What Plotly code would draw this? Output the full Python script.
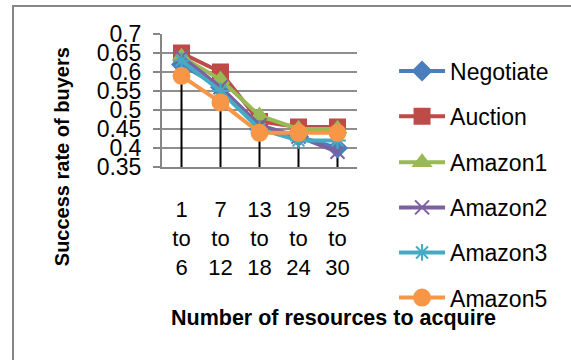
import plotly.graph_objects as go

categories = ["1<br>to<br>6", "7<br>to<br>12", "13<br>to<br>18", "19<br>to<br>24", "25<br>to<br>30"]
negotiate = [0.62, 0.56, 0.45, 0.43, 0.40]
auction = [0.65, 0.60, 0.47, 0.455, 0.455]
amazon1 = [0.64, 0.58, 0.485, 0.45, 0.45]
amazon2 = [0.64, 0.56, 0.46, 0.43, 0.39]
amazon3 = [0.63, 0.55, 0.45, 0.42, 0.42]
amazon5 = [0.59, 0.52, 0.44, 0.44, 0.44]
y_ticks = [0.35, 0.4, 0.45, 0.5, 0.55, 0.6, 0.65, 0.7]
y_tick_text = ["0.35", "0.4", "0.45", "0.5", "0.55", "0.6", "0.65", "0.7"]

series = [
    ("Negotiate", negotiate, "#4A7EBB", "diamond", 14),
    ("Auction", auction, "#BE4B48", "square", 15),
    ("Amazon1", amazon1, "#98B954", "triangle-up", 15),
    ("Amazon2", amazon2, "#7D60A0", "x-thin-open", 14),
    ("Amazon3", amazon3, "#46AAC5", "asterisk-open", 14),
    ("Amazon5", amazon5, "#F79646", "circle", 16),
]
legend_y = [0.721, 0.382, 0.035, -0.304, -0.643, -0.982]

FONT = "Liberation Sans, Arial, sans-serif"
fig = go.Figure()

# drop lines from the highest point of each category to the axis
all_vals = [s[1] for s in series]
tops = [max(v[i] for v in all_vals) for i in range(len(categories))]
dx, dy = [], []
for c, t in zip(categories, tops):
    dx += [c, c, None]
    dy += [0.35, t, None]
fig.add_trace(go.Scatter(x=dx, y=dy, mode="lines", line=dict(color="black", width=2),
                         showlegend=False, hoverinfo="skip"))

legends = {}
for i, (name, vals, color, sym, size) in enumerate(series):
    lid = "legend" if i == 0 else f"legend{i+1}"
    fig.add_trace(go.Scatter(
        x=categories, y=vals, name=name, mode="lines+markers",
        legend=lid,
        line=dict(color=color, width=4),
        marker=dict(symbol=sym, size=size, color=color,
                    line=dict(color=color, width=2)),
    ))
    legends[lid] = dict(x=1.19, y=legend_y[i], xanchor="left", yanchor="middle",
                        xref="paper", yref="paper",
                        font=dict(size=23, family=FONT, color="black"),
                        itemwidth=46, bgcolor="rgba(0,0,0,0)")

fig.update_layout(**legends)

fig.update_layout(
    width=571, height=360,
    margin=dict(l=162, r=214, t=34, b=193, autoexpand=False),
    paper_bgcolor="white", plot_bgcolor="white",
    font=dict(family=FONT, size=23, color="black"),
    xaxis=dict(type="category", showgrid=False, showline=True,
               linecolor="#868686", linewidth=2, ticks="",
               tickfont=dict(size=22), ticklabelstandoff=22,
               range=[-0.5, 4.5], automargin=False),
    yaxis=dict(range=[0.35, 0.7], tickvals=y_ticks, ticktext=y_tick_text,
               showgrid=True, gridcolor="#8E8E8E", gridwidth=1.5,
               showline=True, linecolor="#868686", linewidth=2,
               ticks="outside", ticklen=7, tickcolor="#868686", tickwidth=2,
               tickfont=dict(size=23), ticklabelstandoff=7, automargin=False),
    annotations=[
        dict(text="<b>Number of resources to acquire</b>", xref="paper", yref="paper",
             x=0.882, y=-1.133, xanchor="center", yanchor="middle", showarrow=False,
             font=dict(size=21.5, family=FONT, color="black")),
        dict(text="<b>Success rate of buyers</b>", xref="paper", yref="paper",
             x=-0.513, y=0.081, xanchor="center", yanchor="middle", showarrow=False,
             textangle=-90, font=dict(size=20, family=FONT, color="black")),
    ],
    shapes=[dict(type="rect", xref="paper", yref="paper",
                 x0=-0.764, x1=2.5, y0=-1.6, y1=1.211,
                 line=dict(color="#868686", width=2), fillcolor="rgba(0,0,0,0)",
                 layer="below")],
)

fig.write_html("out.html", config={"displayModeBar": False},
               post_script="document.body.style.margin='0px';")
